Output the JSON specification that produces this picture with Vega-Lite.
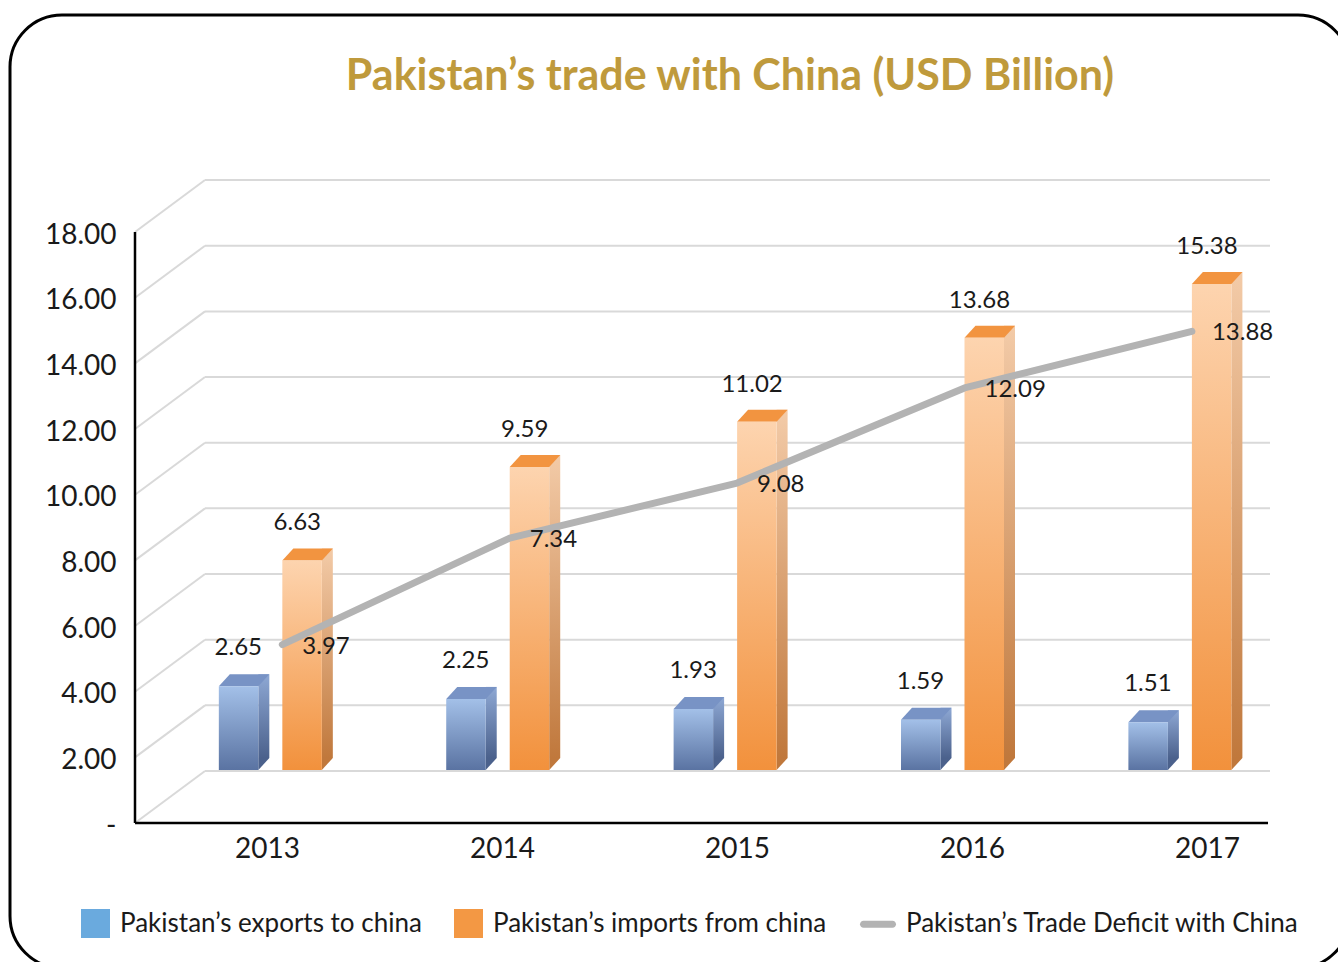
{
  "$schema": "https://vega.github.io/schema/vega-lite/v6.json",
  "width": 1340,
  "height": 953,
  "autosize": {"type": "none"},
  "padding": {"left": 10, "top": 15, "right": 0, "bottom": 0},
  "background": "#ffffff",
  "title": {
    "text": "Pakistan’s trade with China (USD Billion)",
    "anchor": "middle",
    "frame": "group",
    "dx": 50,
    "offset": 0,
    "baseline": "middle",
    "dy": 105,
    "font": "Lato",
    "fontSize": 43,
    "fontWeight": "bold",
    "color": "#bf9a3c"
  },
  "datasets": {
    "trade": [
      {"year": 2013, "exports": 2.65, "imports": 6.63, "deficit": 3.97},
      {"year": 2014, "exports": 2.25, "imports": 9.59, "deficit": 7.34},
      {"year": 2015, "exports": 1.93, "imports": 11.02, "deficit": 9.08},
      {"year": 2016, "exports": 1.59, "imports": 13.68, "deficit": 12.09},
      {"year": 2017, "exports": 1.51, "imports": 15.38, "deficit": 13.88}
    ],
    "grid": [
      {"v": 0}, {"v": 2}, {"v": 4}, {"v": 6}, {"v": 8},
      {"v": 10}, {"v": 12}, {"v": 14}, {"v": 16}, {"v": 18}
    ],
    "one": [{"k": 1}],
    "series": [
      {"series": "Pakistan’s exports to china"},
      {"series": "Pakistan’s imports from china"},
      {"series": "Pakistan’s Trade Deficit with China"}
    ]
  },
  "layer": [
    {
      "layer": [
        {
          "data": {"name": "grid"},
          "mark": {"type": "rule", "color": "#d9d9d9", "strokeWidth": 2},
          "encoding": {
            "x": {
              "datum": 2012.7362, "type": "quantitative",
              "scale": {"domain": [2011.9064, 2017.6085], "nice": false, "zero": false},
              "axis": {"values": [2013, 2014, 2015, 2016, 2017], "format": "d", "offset": -145, "domain": false, "ticks": false, "grid": false, "labelPadding": 12, "labelFlush": false, "labelOverlap": false, "title": null}
            },
            "x2": {"datum": 2017.2681},
            "y": {
              "field": "v", "type": "quantitative",
              "scale": {"domain": [-6.0006, 23.0277], "nice": false, "zero": false},
              "axis": {"values": [0, 2, 4, 6, 8, 10, 12, 14, 16, 18], "labelExpr": "datum.value == 0 ? '-' : format(datum.value, '.2f')", "offset": -125, "labelOffset": 55, "domain": false, "ticks": false, "grid": false, "labelPadding": 19, "labelFlush": false, "labelOverlap": false, "title": null}
            }
          }
        },
        {
          "data": {"name": "grid"},
          "mark": {"type": "rule", "color": "#d9d9d9", "strokeWidth": 2, "yOffset": 52},
          "encoding": {
            "x": {"datum": 2012.4383, "type": "quantitative"},
            "x2": {"datum": 2012.7362},
            "y": {"field": "v", "type": "quantitative"},
            "y2": {"field": "v"}
          }
        },
        {
          "data": {"name": "one"},
          "mark": {"type": "rule", "color": "#000000", "strokeWidth": 2.5, "yOffset": 52, "y2Offset": 52},
          "encoding": {
            "x": {"datum": 2012.4383, "type": "quantitative"},
            "y": {"datum": 0, "type": "quantitative"},
            "y2": {"datum": 18}
          }
        },
        {
          "data": {"name": "one"},
          "mark": {"type": "rule", "color": "#000000", "strokeWidth": 2.5, "yOffset": 52},
          "encoding": {
            "x": {"datum": 2012.4383, "type": "quantitative"},
            "x2": {"datum": 2017.2596},
            "y": {"datum": 0, "type": "quantitative"}
          }
        },
        {
          "data": {"name": "series"},
          "mark": {"type": "point", "filled": true, "opacity": 0},
          "encoding": {
            "color": {
              "field": "series", "type": "nominal",
              "scale": {
                "domain": ["Pakistan’s exports to china", "Pakistan’s imports from china", "Pakistan’s Trade Deficit with China"],
                "range": ["#6aaade", "#f39844", "#b3b3b3"]
              },
              "legend": {
                "title": null,
                "orient": "none",
                "legendX": 71,
                "legendY": 894,
                "direction": "horizontal",
                "columns": 3,
                "symbolSize": 841,
                "symbolType": "square",
                "labelFontSize": 26,
                "labelFont": "Lato",
                "labelColor": "#1a1a1a",
                "labelOffset": 10,
                "labelLimit": 600,
                "columnPadding": 32,
                "padding": 0,
                "encode": {
                  "symbols": {
                    "update": {
                      "shape": {"signal": "datum.value === 'Pakistan’s Trade Deficit with China' ? 'M-1.2414,-0.2414L0.7586,-0.2414A0.2414,0.2414 0 0 1 0.7586,0.2414L-1.2414,0.2414A0.2414,0.2414 0 0 1 -1.2414,-0.2414Z' : 'square'"},
                      "fill": {"scale": "color", "field": "value"},
                      "strokeWidth": {"value": 0},
                      "opacity": {"value": 1},
                      "fillOpacity": {"value": 1}
                    }
                  }
                }
              }
            }
          }
        }
      ]
    },
    {
      "data": {"name": "trade"},
      "encoding": {
        "x": {"field": "year", "type": "quantitative", "scale": {"domain": [2011.87712, 2017.7261], "nice": false, "zero": false}, "axis": null}
      },
      "layer": [
        {
          "mark": {"type": "bar", "width": 11, "xOffset": -6.5, "yOffset": -12, "y2Offset": -12,
            "color": {"gradient": "linear", "x1": 0, "y1": 0, "x2": 0, "y2": 1, "stops": [{"offset": 0, "color": "#8ea8d4"}, {"offset": 1, "color": "#4b618c"}]}},
          "encoding": {
            "y": {"field": "exports", "type": "quantitative", "scale": {"domain": [-6.2658, 23.8924], "nice": false, "zero": false}, "axis": null},
            "y2": {"datum": 0}
          }
        },
        {
          "mark": {"type": "bar", "width": 11, "xOffset": 57, "yOffset": -12, "y2Offset": -12,
            "color": {"gradient": "linear", "x1": 0, "y1": 0, "x2": 0, "y2": 1, "stops": [{"offset": 0, "color": "#f3cba8"}, {"offset": 1, "color": "#c0783c"}]}},
          "encoding": {
            "y": {"field": "imports", "type": "quantitative", "scale": {"domain": [-6.2658, 23.8924], "nice": false, "zero": false}, "axis": null},
            "y2": {"datum": 0}
          }
        },
        {
          "mark": {"type": "point", "filled": true, "opacity": 1, "strokeWidth": 0, "size": 576, "shape": "M0,0L0,-1L0.9167,-1Z", "xOffset": -12, "color": "#4b618c"},
          "encoding": {
            "y": {"datum": 0, "type": "quantitative", "scale": {"domain": [-6.2658, 23.8924], "nice": false, "zero": false}, "axis": null}
          }
        },
        {
          "mark": {"type": "point", "filled": true, "opacity": 1, "strokeWidth": 0, "size": 576, "shape": "M0,0L0,-1L0.9167,-1Z", "xOffset": 51.5, "color": "#c0783c"},
          "encoding": {
            "y": {"datum": 0, "type": "quantitative", "scale": {"domain": [-6.2658, 23.8924], "nice": false, "zero": false}, "axis": null}
          }
        },
        {
          "mark": {"type": "point", "filled": true, "opacity": 1, "strokeWidth": 0, "size": 2704, "shape": "M0,0L1.519,0L1.942,-0.4615L0.423,-0.4615Z", "xOffset": -51.5, "color": "#7893c5"},
          "encoding": {
            "y": {"field": "exports", "type": "quantitative", "scale": {"domain": [-6.2658, 23.8924], "nice": false, "zero": false}, "axis": null}
          }
        },
        {
          "mark": {"type": "point", "filled": true, "opacity": 1, "strokeWidth": 0, "size": 2704, "shape": "M0,0L1.519,0L1.942,-0.4615L0.423,-0.4615Z", "xOffset": 12, "color": "#f29440"},
          "encoding": {
            "y": {"field": "imports", "type": "quantitative", "scale": {"domain": [-6.2658, 23.8924], "nice": false, "zero": false}, "axis": null}
          }
        },
        {
          "mark": {"type": "bar", "width": 39.5, "xOffset": -31.75,
            "color": {"gradient": "linear", "x1": 0, "y1": 0, "x2": 0, "y2": 1, "stops": [{"offset": 0, "color": "#a3c0e8"}, {"offset": 1, "color": "#5a73a2"}]}},
          "encoding": {
            "y": {"field": "exports", "type": "quantitative", "scale": {"domain": [-6.2658, 23.8924], "nice": false, "zero": false}, "axis": null},
            "y2": {"datum": 0}
          }
        },
        {
          "mark": {"type": "bar", "width": 39.5, "xOffset": 31.75,
            "color": {"gradient": "linear", "x1": 0, "y1": 0, "x2": 0, "y2": 1, "stops": [{"offset": 0, "color": "#fdd4af"}, {"offset": 1, "color": "#f2913c"}]}},
          "encoding": {
            "y": {"field": "imports", "type": "quantitative", "scale": {"domain": [-6.2658, 23.8924], "nice": false, "zero": false}, "axis": null},
            "y2": {"datum": 0}
          }
        },
        {
          "mark": {"type": "line", "color": "#b3b3b3", "strokeWidth": 7, "strokeCap": "round", "strokeJoin": "round", "xOffset": 12},
          "encoding": {
            "y": {"field": "deficit", "type": "quantitative", "scale": {"domain": [-6.2658, 23.8924], "nice": false, "zero": false}, "axis": null}
          }
        },
        {
          "mark": {"type": "text", "dx": -32, "dy": -38, "baseline": "middle", "align": "center"},
          "encoding": {
            "y": {"field": "exports", "type": "quantitative", "scale": {"domain": [-6.2658, 23.8924], "nice": false, "zero": false}, "axis": null},
            "text": {"field": "exports", "type": "quantitative", "format": ".2f"}
          }
        },
        {
          "mark": {"type": "text", "dx": 27, "dy": -37, "baseline": "middle", "align": "center"},
          "encoding": {
            "y": {"field": "imports", "type": "quantitative", "scale": {"domain": [-6.2658, 23.8924], "nice": false, "zero": false}, "axis": null},
            "text": {"field": "imports", "type": "quantitative", "format": ".2f"}
          }
        },
        {
          "mark": {"type": "text", "dx": 32, "dy": 2, "baseline": "middle", "align": "left"},
          "encoding": {
            "y": {"field": "deficit", "type": "quantitative", "scale": {"domain": [-6.2658, 23.8924], "nice": false, "zero": false}, "axis": null},
            "text": {"field": "deficit", "type": "quantitative", "format": ".2f"}
          }
        }
      ]
    }
  ],
  "resolve": {
    "scale": {"x": "independent", "y": "independent"},
    "axis": {"x": "independent", "y": "independent"}
  },
  "config": {
    "view": {"stroke": "#000000", "strokeWidth": 3, "cornerRadius": 52, "fill": "#ffffff"},
    "font": "Lato",
    "axis": {"labelFont": "Lato", "labelFontSize": 28, "labelColor": "#1a1a1a"},
    "text": {"font": "Lato", "fontSize": 24, "color": "#1a1a1a"}
  }
}
